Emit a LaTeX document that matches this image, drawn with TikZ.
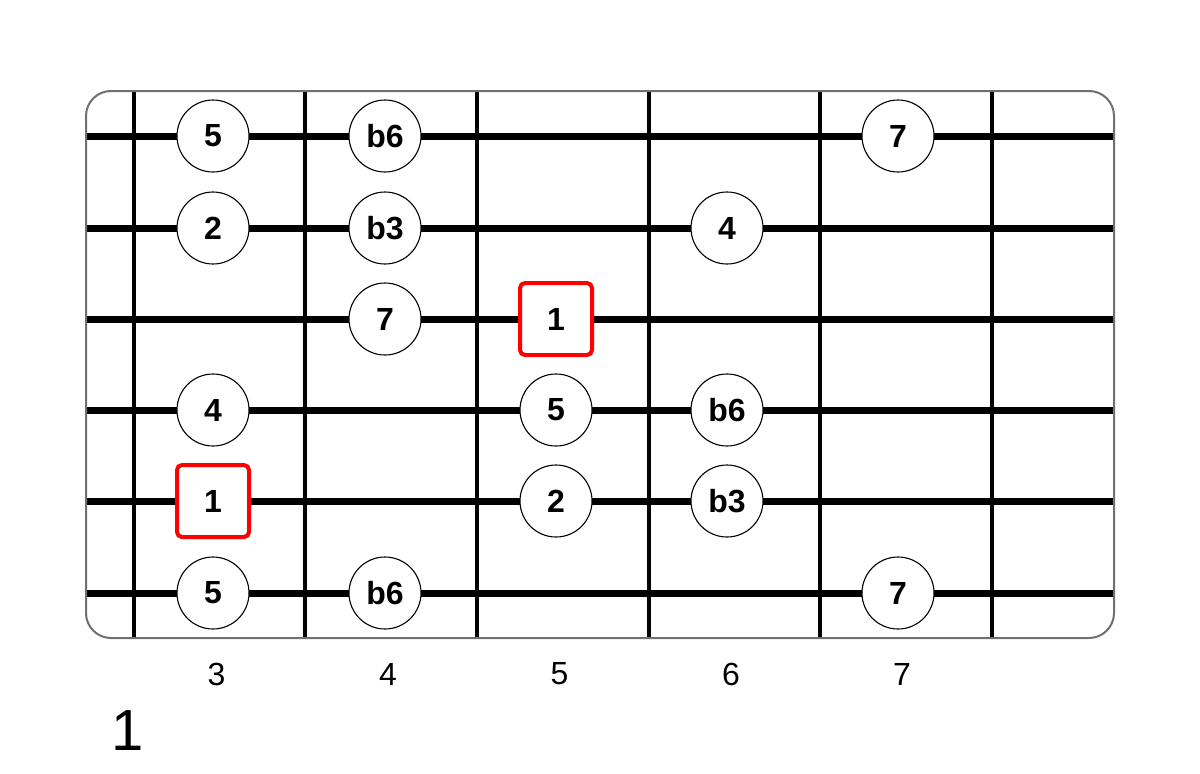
\documentclass[tikz,border=0pt]{standalone}
\usepackage{fontspec}
\setmainfont{Liberation Sans}
\definecolor{framegray}{HTML}{707070}
\definecolor{rootred}{HTML}{FF0000}
\begin{document}
\begin{tikzpicture}[x=1pt,y=-1pt,
  note/.style={circle,draw=black,line width=1.1pt,fill=white,minimum size=72pt,inner sep=0pt,
    font=\fontsize{32}{32}\selectfont\bfseries},
  root/.style={rectangle,rounded corners=5pt,draw=rootred,line width=4pt,fill=white,minimum size=72pt,inner sep=0pt,
    font=\fontsize{32}{32}\selectfont\bfseries},
  stringline/.style={line width=7pt,black},
  fretline/.style={line width=3.5pt,black},
  fretnum/.style={font=\fontsize{32}{32}\selectfont},
]
\useasboundingbox (0,0) rectangle (1200,774);
% strings
\foreach \y in {136,228,319,410,501,593}
  \draw[stringline] (87,\y) -- (1113,\y);
% frets
\foreach \x in {134,305,477,649,820,992}
  \draw[fretline] (\x,92) -- (\x,637);
% frame
\draw[framegray,line width=2pt,rounded corners=25pt] (86,91) rectangle (1114,638);
% notes row 1
\node[note] (r1a) at (213,136) {5};
\node[note] (r1b) at (385,136) {b6};
\node[note] (r1c) at (898,136) {7};
% row 2
\node[note] (r2a) at (213,228) {2};
\node[note] (r2b) at (385,228) {b3};
\node[note] (r2c) at (727,228) {4};
% row 3
\node[note] (r3a) at (385,319) {7};
\node[root] (r3b) at (556,319) {1};
% row 4
\node[note] (r4a) at (213,410) {4};
\node[note] (r4b) at (556,410) {5};
\node[note] (r4c) at (727,410) {b6};
% row 5
\node[root] (r5a) at (213,501) {1};
\node[note] (r5b) at (556,501) {2};
\node[note] (r5c) at (727,501) {b3};
% row 6
\node[note] (r6a) at (213,593) {5};
\node[note] (r6b) at (385,593) {b6};
\node[note] (r6c) at (898,593) {7};
% fret numbers
\node[fretnum] (f3) at (216.5,674) {3};
\node[fretnum] (f4) at (388,674) {4};
\node[fretnum] (f5) at (559.5,674) {5};
\node[fretnum] (f6) at (731,674) {6};
\node[fretnum] (f7) at (902,674) {7};
% position label
\node[anchor=base west,inner sep=0pt,font=\fontsize{58}{58}\selectfont] (pos) at (111,750) {1};
\end{tikzpicture}
\end{document}
